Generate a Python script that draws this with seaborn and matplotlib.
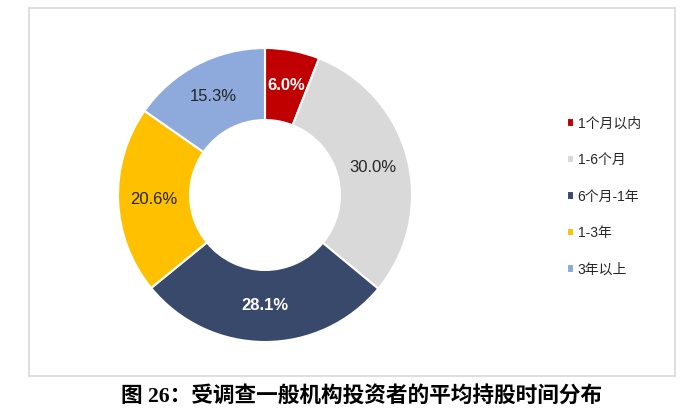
import matplotlib
matplotlib.use("Agg")
import matplotlib.pyplot as plt
from matplotlib.patches import Rectangle
import seaborn as sns

# Holding-period categories and their shares (%)
categories = ["1个月以内", "1-6个月", "6个月-1年", "1-3年", "3年以上"]
shares = [6.0, 30.0, 28.1, 20.6, 15.3]
colors = ["#C00000", "#D9D9D9", "#39496B", "#FFC000", "#8EA9DB"]
label_colors = ["white", "#262626", "white", "#262626", "#262626"]
label_weights = ["bold", "normal", "bold", "normal", "normal"]
caption = "图 26：受调查一般机构投资者的平均持股时间分布"

sns.set_theme(style="white")
plt.rcParams["font.family"] = ["Liberation Sans", "Noto Sans CJK SC", "DejaVu Sans"]

W, H = 700, 418
fig = plt.figure(figsize=(W / 100, H / 100), dpi=100)
fig.patch.set_facecolor("white")

# light frame around the chart area
fig.add_artist(Rectangle((29 / W, 1 - 376 / H), (675 - 29) / W, (376 - 8) / H,
                         transform=fig.transFigure, fill=False,
                         edgecolor="#D9D9D9", linewidth=1.2))

# donut axes: centre (265, 195) px, outer radius 147 px
cx, cy, r = 265, 195, 147
half = 150
ax = fig.add_axes([(cx - half) / W, (H - cy - half) / H, 2 * half / W, 2 * half / H])
palette = sns.color_palette(colors)
wedges, _, autotexts = ax.pie(
    shares, colors=palette, startangle=90, counterclock=False,
    radius=1.0, autopct="%1.1f%%", pctdistance=0.755,
    wedgeprops=dict(width=0.49, edgecolor="white", linewidth=1.5),
    textprops=dict(fontsize=12),
)
for t, v, c, w in zip(autotexts, shares, label_colors, label_weights):
    t.set_text(f"{v:.1f}%")
    t.set_color(c)
    t.set_fontweight(w)
lim = half / r
ax.set_xlim(-lim, lim)
ax.set_ylim(-lim, lim)
ax.set_aspect("equal")
ax.axis("off")

fig.legend(wedges, categories, loc="upper left",
           bbox_to_anchor=(561 / W, 1 - 111 / H), frameon=False,
           fontsize=10, handlelength=0.55, handleheight=0.55,
           handletextpad=0.25, labelspacing=1.62, borderaxespad=0,
           labelcolor="#262626")

fig.text(362 / W, 1 - 397 / H, caption, ha="center", va="center",
         fontsize=15.6, fontweight="bold", color="black",
         family=["Liberation Serif", "Noto Sans CJK SC"])

fig.savefig("out.png", dpi=100, facecolor="white")
